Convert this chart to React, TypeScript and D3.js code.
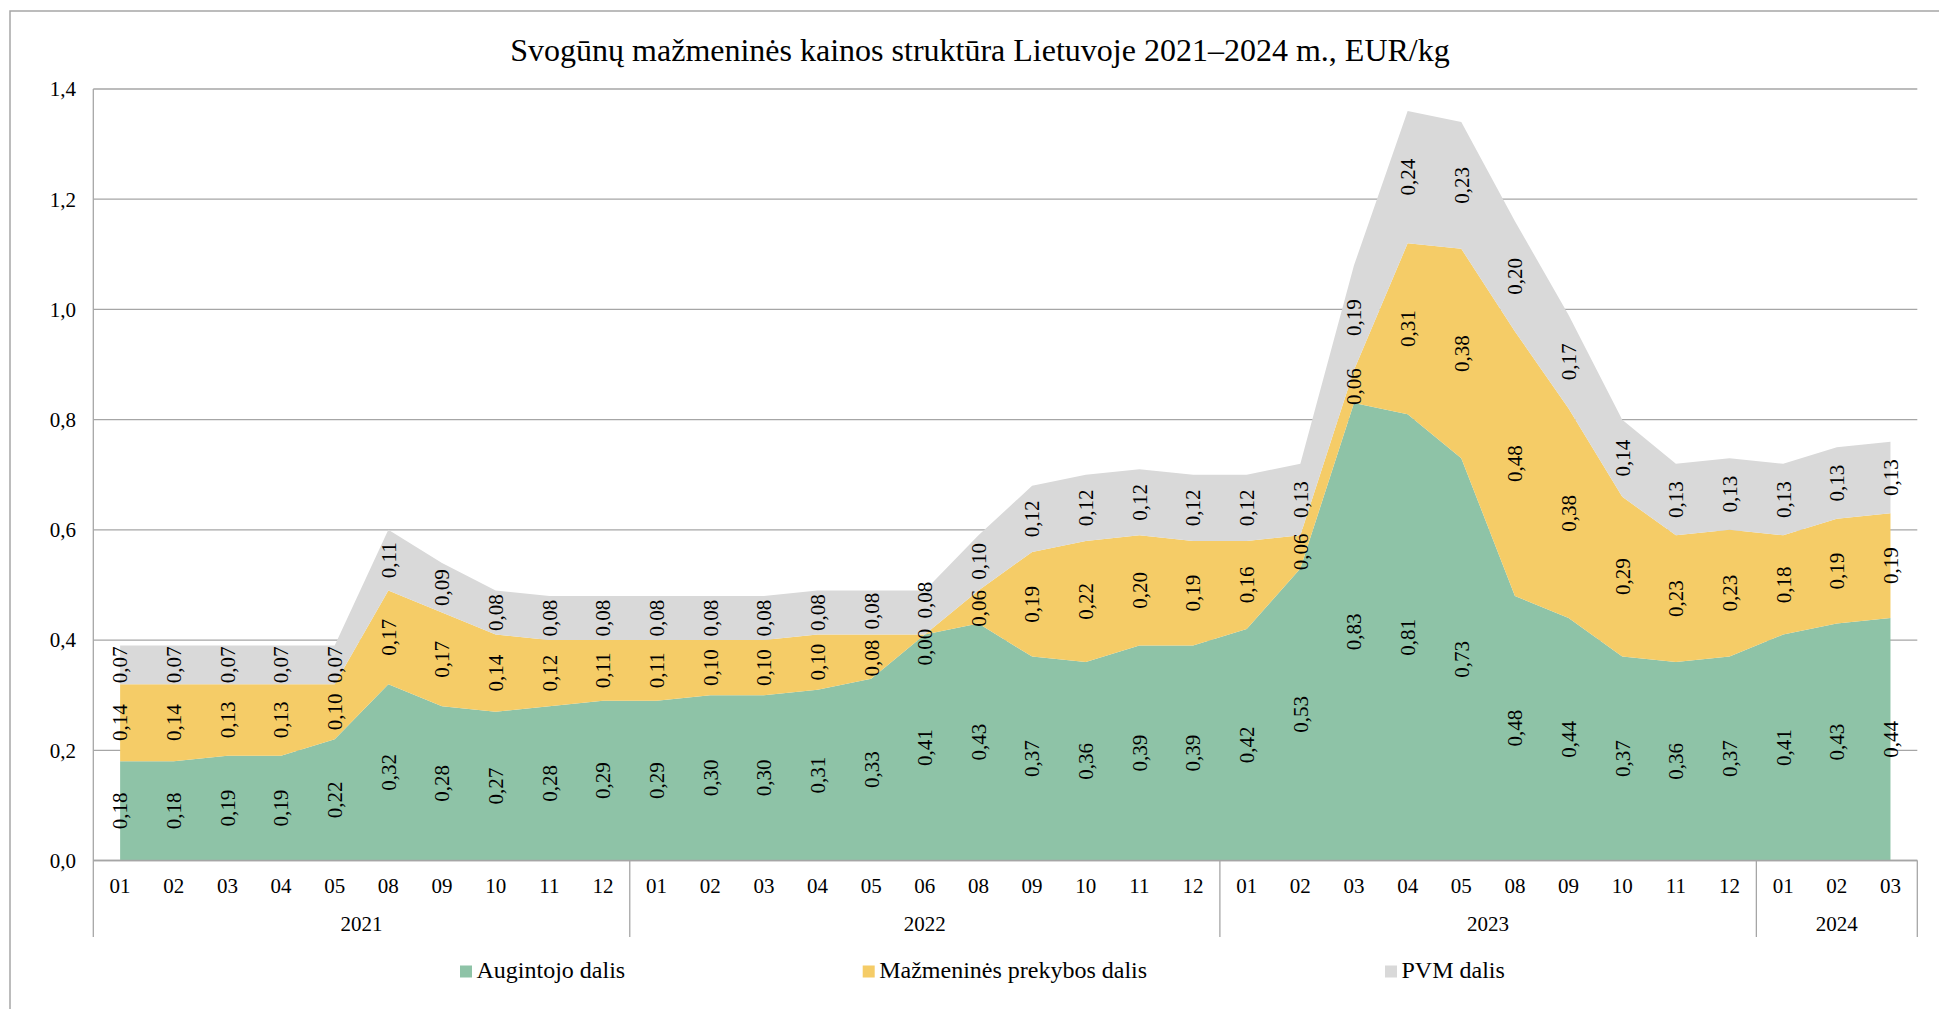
import React from "react";
import * as d3 from "d3";

const periods = [
  "2021-01","2021-02","2021-03","2021-04","2021-05","2021-08","2021-09","2021-10","2021-11","2021-12",
  "2022-01","2022-02","2022-03","2022-04","2022-05","2022-06","2022-08","2022-09","2022-10","2022-11","2022-12",
  "2023-01","2023-02","2023-03","2023-04","2023-05","2023-08","2023-09","2023-10","2023-11","2023-12",
  "2024-01","2024-02","2024-03",
];

const augintojo = [
  0.18,0.18,0.19,0.19,0.22,0.32,0.28,0.27,0.28,0.29,
  0.29,0.30,0.30,0.31,0.33,0.41,0.43,0.37,0.36,0.39,0.39,
  0.42,0.53,0.83,0.81,0.73,0.48,0.44,0.37,0.36,0.37,
  0.41,0.43,0.44,
];
const mazmenines = [
  0.14,0.14,0.13,0.13,0.10,0.17,0.17,0.14,0.12,0.11,
  0.11,0.10,0.10,0.10,0.08,0.00,0.06,0.19,0.22,0.20,0.19,
  0.16,0.06,0.06,0.31,0.38,0.48,0.38,0.29,0.23,0.23,
  0.18,0.19,0.19,
];
const pvm = [
  0.07,0.07,0.07,0.07,0.07,0.11,0.09,0.08,0.08,0.08,
  0.08,0.08,0.08,0.08,0.08,0.08,0.10,0.12,0.12,0.12,0.12,
  0.12,0.13,0.19,0.24,0.23,0.20,0.17,0.14,0.13,0.13,
  0.13,0.13,0.13,
];

const seriesNames = ["Augintojo dalis", "Mažmeninės prekybos dalis", "PVM dalis"];
const seriesColors = ["#8EC3A7", "#F5CC67", "#D9D9D9"];
const yTicks = [0, 0.2, 0.4, 0.6, 0.8, 1.0, 1.2, 1.4];
const title = "Svogūnų mažmeninės kainos struktūra Lietuvoje 2021–2024 m., EUR/kg";

const W = 1939;
const H = 1009;
const FONT = "'Liberation Serif', 'Times New Roman', serif";
const GRID = "#a6a6a6";

const comma = (s: string) => s.replace(".", ",");

export default function App() {
  const left = 93.3;
  const right = 1917.3;
  const top = 89;
  const bottom = 860.5;
  const axisBottom = 937;

  const x = d3.scalePoint<number>().domain(d3.range(periods.length)).range([left, right]).padding(0.5);
  const step = x.step();
  const y = d3.scaleLinear().domain([0, 1.4]).range([bottom, top]);

  const rows = periods.map((p, i) => ({ i, a: augintojo[i], m: mazmenines[i], v: pvm[i] }));
  const keys = ["a", "m", "v"];
  const stack = d3.stack<any>().keys(keys)(rows);

  const area = d3
    .area<any>()
    .x((d) => x(d.data.i) as number)
    .y0((d) => y(d[0]))
    .y1((d) => y(d[1]));

  // year groups
  const years: { year: string; start: number; end: number }[] = [];
  periods.forEach((p, i) => {
    const yr = p.split("-")[0];
    const last = years[years.length - 1];
    if (!last || last.year !== yr) years.push({ year: yr, start: i, end: i });
    else last.end = i;
  });
  const edge = (i: number) => left + i * step;

  // data labels with simple per-column overlap resolution
  const MIN_GAP = 47;
  const labels: { k: number; i: number; cx: number; cy: number; text: string }[] = [];
  periods.forEach((p, i) => {
    const col = stack.map((s, k) => ({
      k,
      i,
      cx: x(i) as number,
      cy: y((s[i][0] + s[i][1]) / 2),
      text: comma(d3.format(".2f")(s[i][1] - s[i][0])),
    }));
    for (let iter = 0; iter < 5; iter++) {
      for (let j = 0; j < col.length - 1; j++) {
        const lo = col[j];
        const hi = col[j + 1];
        const d = lo.cy - hi.cy;
        if (d < MIN_GAP) {
          const push = (MIN_GAP - d) / 2;
          lo.cy += push;
          hi.cy -= push;
        }
      }
    }
    labels.push(...col);
  });

  const legendX = [460, 862.7, 1385];
  const legendY = 977.5;

  return (
    <>
      <style>{`body{margin:0;overflow:hidden}`}</style>
      <svg width={W} height={H} style={{ display: "block", background: "#fff" }} fontFamily={FONT}>
        {/* outer frame */}
        <rect x={10} y={11} width={2100} height={1200} fill="#fff" stroke={GRID} strokeWidth={1.5} />

        {/* title */}
        <text x={980} y={61} textAnchor="middle" fontSize={32} fill="#000">
          {title}
        </text>

        {/* gridlines */}
        {yTicks.map((t) => (
          <line key={"g" + t} x1={left} x2={right} y1={y(t)} y2={y(t)} stroke={GRID} strokeWidth={1.3} />
        ))}

        {/* areas */}
        {stack.map((s, k) => (
          <path key={"a" + k} d={area(s) as string} fill={seriesColors[k]} />
        ))}

        {/* axes */}
        <line x1={left} x2={left} y1={top} y2={axisBottom} stroke={GRID} strokeWidth={1.3} />
        <line x1={left} x2={right} y1={bottom} y2={bottom} stroke={GRID} strokeWidth={1.3} />
        <line x1={right} x2={right} y1={bottom} y2={axisBottom} stroke={GRID} strokeWidth={1.3} />
        {years.slice(1).map((g) => (
          <line key={"s" + g.year} x1={edge(g.start)} x2={edge(g.start)} y1={bottom} y2={axisBottom} stroke={GRID} strokeWidth={1.3} />
        ))}

        {/* y tick labels */}
        {yTicks.map((t) => (
          <text key={"yt" + t} x={76} y={y(t)} dy="0.35em" textAnchor="end" fontSize={21} fill="#000">
            {comma(d3.format(".1f")(t))}
          </text>
        ))}

        {/* month labels */}
        {periods.map((p, i) => (
          <text key={"m" + i} x={x(i)} y={892.5} textAnchor="middle" fontSize={21} fill="#000">
            {p.split("-")[1]}
          </text>
        ))}

        {/* year labels */}
        {years.map((g) => (
          <text key={"y" + g.year} x={(edge(g.start) + edge(g.end + 1)) / 2} y={931} textAnchor="middle" fontSize={21} fill="#000">
            {g.year}
          </text>
        ))}

        {/* data labels */}
        {labels.map((l) => (
          <text
            key={"l" + l.k + "-" + l.i}
            transform={`translate(${l.cx},${l.cy}) rotate(-90)`}
            dy="0.35em"
            textAnchor="middle"
            fontSize={21}
            fill="#000"
          >
            {l.text}
          </text>
        ))}

        {/* legend */}
        {seriesNames.map((n, k) => (
          <g key={"lg" + k}>
            <rect x={legendX[k]} y={legendY - 12} width={12} height={12} fill={seriesColors[k]} />
            <text x={legendX[k] + 16.5} y={legendY} fontSize={24} fill="#000">
              {n}
            </text>
          </g>
        ))}
      </svg>
    </>
  );
}
